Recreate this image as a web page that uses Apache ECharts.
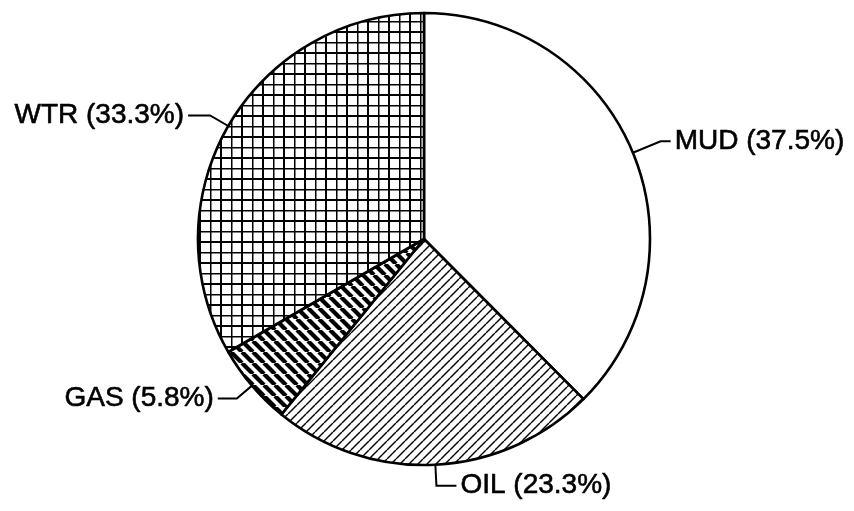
<!DOCTYPE html>
<html>
<head>
<meta charset="utf-8">
<script src="https://cdn.jsdelivr.net/npm/echarts@6/dist/echarts.min.js"></script>
<style>
  html, body { margin: 0; padding: 0; background: #fff; }
  #chart { width: 854px; height: 511px; }
</style>
</head>
<body>
<div id="chart"></div>
<script>
// fluid shares (%), clockwise from 12 o'clock
const categories = ['MUD', 'OIL', 'GAS', 'WTR'];
const percents = [37.5, 23.3, 5.8, 33.3];

// hatch fills like the b/w drawing
const makeTile = (size, draw) => {
  const c = document.createElement('canvas');
  c.width = size;
  c.height = size;
  const ctx = c.getContext('2d');
  ctx.fillStyle = '#fff';
  ctx.fillRect(0, 0, size, size);
  ctx.strokeStyle = '#000';
  draw(ctx, size);
  return c;
};

// thin "/" lines
const oilTile = makeTile(9, (ctx, s) => {
  ctx.lineWidth = 1.4;
  for (let k = -1; k <= 1; k++) {
    ctx.beginPath();
    ctx.moveTo(k * s, s);
    ctx.lineTo(k * s + s, 0);
    ctx.stroke();
  }
});

// thick "\" lines
const gasTile = makeTile(11, (ctx, s) => {
  ctx.lineWidth = 4.2;
  for (let k = -1; k <= 1; k++) {
    ctx.beginPath();
    ctx.moveTo(k * s, 0);
    ctx.lineTo(k * s + s, s);
    ctx.stroke();
  }
});

// square grid
const wtrTile = makeTile(21, (ctx, s) => {
  ctx.lineWidth = 2;
  [0, s / 2].forEach(p => {
    ctx.beginPath();
    ctx.moveTo(p + 0.5, 0); ctx.lineTo(p + 0.5, s);
    ctx.moveTo(0, p + 0.5); ctx.lineTo(s, p + 0.5);
    ctx.stroke();
  });
});

const fills = {
  MUD: '#ffffff',
  OIL: { image: oilTile, repeat: 'repeat' },
  GAS: { image: gasTile, repeat: 'repeat' },
  WTR: { image: wtrTile, repeat: 'repeat' }
};
// leader line lengths (first leg, horizontal leg)
const leaders = {
  MUD: [30, 10],
  OIL: [21, 20],
  GAS: [20, 19],
  WTR: [21, 22]
};

const myChart = echarts.init(document.getElementById('chart'));

const option = {
  animation: false,
  backgroundColor: '#fff',
  series: [
    {
      type: 'pie',
      center: [424, 239],
      radius: 226,
      startAngle: 90,
      clockwise: true,
      avoidLabelOverlap: false,
      silent: true,
      itemStyle: {
        borderColor: '#000',
        borderWidth: 2.6
      },
      label: {
        show: true,
        position: 'outside',
        formatter: '{b} ({c}%)',
        color: '#000',
        fontSize: 28,
        fontFamily: '"Liberation Sans", Arial, sans-serif',
        textBorderColor: '#000',
        textBorderWidth: 0.6,
        distanceToLabelLine: 4
      },
      labelLine: {
        show: true,
        smooth: false,
        lineStyle: { color: '#000', width: 2 }
      },
      emphasis: { disabled: true },
      data: categories.map((name, i) => ({
        name: name,
        value: percents[i],
        itemStyle: { color: fills[name] },
        labelLine: { length: leaders[name][0], length2: leaders[name][1] }
      }))
    }
  ]
};
option && myChart.setOption(option);
</script>
</body>
</html>
